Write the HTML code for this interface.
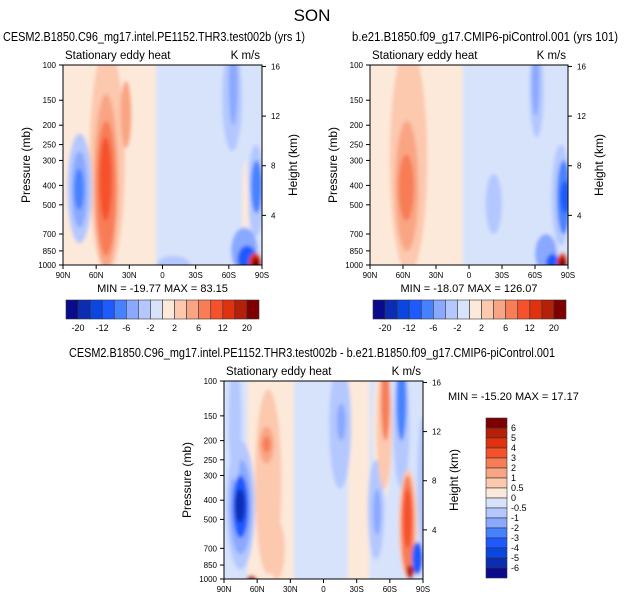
<!DOCTYPE html>
<html><head><meta charset="utf-8"><style>
body{margin:0;background:#fff}
svg{display:block;font-family:"Liberation Sans",sans-serif}
</style></head><body>
<svg id="fig" width="624" height="602" viewBox="0 0 624 602">
<defs><filter id="bl" x="-20%" y="-20%" width="140%" height="140%"><feGaussianBlur stdDeviation="1.8"/></filter></defs>
<text x="312" y="21" font-size="17" text-anchor="middle">SON</text>
</svg>
<script>
const palette=["#0a0a8c","#0a2db4","#0a46e0","#1e5aff","#4682ff","#8aa8ff","#b4c8ff","#d7e3fb","#fde9d9","#fcc8ae","#f9a584","#f87d56","#f5512b","#e0320f","#b4200a","#7f0000"];
const pTicks=[100,150,200,250,300,400,500,700,850,1000];
const hTicks=[4,8,12,16];
const latTicks=[90,60,30,0,-30,-60,-90];
const latLabels=["90N","60N","30N","0","30S","60S","90S"];
const topBarLabels=["-20","-12","-6","-2","2","6","12","20"];
const diffBarLabels=["6","5","4","3","2","1","0.5","0","-0.5","-1","-2","-3","-4","-5","-6"];
// background bands: [lat0, lat1, level]
const bgA=[[90,3,8],[3,-90,7]];
const bgB=[[90,3,8],[3,-90,7]];
const bgC=[[90,66,7],[66,24,8],[24,-25,7],[-25,-44,8],[-44,-90,7]];
// features: [lat0, lat1, pTop, pBot, level]
const featA=[[66,34,80,1100,9],[62,40,140,1050,10],[60,42,190,900,11],[57,46,230,600,12],[38,28,120,260,10],[86,64,220,780,6],[82,68,270,650,5],[80,71,330,530,4],[-54,-72,80,270,6],[-60,-68,80,200,5],[-77,-92,250,720,6],[-80,-90,300,550,4],[5,-25,900,1100,6],[-72,-78,300,900,8],[-62,-86,650,1100,5],[-68,-85,800,1100,3],[-78,-90,870,1100,13],[-81,-88,920,1100,15]];
const featB=[[72,38,80,1100,9],[67,46,190,850,10],[64,50,280,600,11],[-55,-68,80,230,6],[-57,-64,80,180,5],[-75,-92,250,800,6],[-80,-92,300,700,4],[-83,-92,380,550,3],[-15,-30,350,700,6],[-60,-80,700,1100,5],[-70,-82,880,1100,3],[-80,-90,870,1100,13],[-82,-88,920,1100,15]];
const featC=[[62,38,110,950,9],[58,45,170,260,10],[55,48,190,230,11],[50,35,500,1000,9],[-45,-62,80,400,8],[88,62,200,900,6],[85,65,250,750,5],[82,68,300,620,3],[80,71,350,520,1],[86,74,80,320,6],[-5,-25,80,350,6],[-12,-20,130,200,5],[-40,-55,250,800,6],[-45,-52,350,600,5],[-48,-62,80,350,9],[-52,-60,80,200,11],[-63,-78,80,350,6],[-66,-75,80,200,4],[-68,-85,280,1000,9],[-70,-82,300,950,11],[-72,-80,350,700,12],[-85,-95,150,700,6],[-80,-90,650,950,3],[-75,-82,850,1000,14],[60,70,960,1100,14]];
const svg=document.getElementById('fig');
const NS='http://www.w3.org/2000/svg';
function mk(tag,attrs,parent,txt){const e=document.createElementNS(NS,tag);for(const k in attrs)e.setAttribute(k,attrs[k]);if(txt!==undefined)e.textContent=txt;(parent||svg).appendChild(e);return e;}
let clipN=0;
function panel(x0,y0,w,h,bg,feats,title,titleX,titleAnchor,titleLen,minmax,name){
  const xS=lat=>x0+(90-lat)/180*w;
  const yS=p=>y0+Math.log10(p/100)*h;
  const g=mk('g',{});
  
  
  const cid='c'+(clipN++);
  const cp=mk('clipPath',{id:cid},g);mk('rect',{x:x0,y:y0,width:w,height:h},cp);
  const fg=mk('g',{'clip-path':'url(#'+cid+')'},g);
  const fb=mk('g',{filter:'url(#bl)'},fg);
  bg.forEach(b=>{
    const xa=xS(b[0]),xb=xS(b[1]);
    const r=mk('rect',{x:Math.min(xa,xb)-3,y:y0-10,width:Math.abs(xb-xa)+6,height:h+20,fill:palette[b[2]]},fb);
    
    
  });
  feats.forEach(f=>{
    const xa=xS(f[0]),xb=xS(f[1]),ya=yS(f[2]),yb=yS(f[3]);
    const e=mk('ellipse',{cx:(xa+xb)/2,cy:(ya+yb)/2,rx:Math.abs(xb-xa)/2,ry:Math.abs(yb-ya)/2,fill:palette[f[4]]},fb);
    
    
  });
  mk('rect',{x:x0,y:y0,width:w,height:h,fill:'none',stroke:'#000','stroke-width':1},g);
  pTicks.forEach(p=>{const y=yS(p);mk('line',{x1:x0-4,x2:x0,y1:y,y2:y,stroke:'#000'},g);
    const t=mk('text',{x:x0-7,y:y+3,'font-size':8,'text-anchor':'end'},g,p);});
  hTicks.forEach(hk=>{const y=yS(1000*Math.exp(-hk/7));mk('line',{x1:x0+w,x2:x0+w+4,y1:y,y2:y,stroke:'#000'},g);
    const t=mk('text',{x:x0+w+9,y:y+3,'font-size':8},g,hk);});
  latTicks.forEach((l,i)=>{const x=xS(l);mk('line',{x1:x,x2:x,y1:y0+h,y2:y0+h+4,stroke:'#000'},g);
    const t=mk('text',{x:x,y:y0+h+13,'font-size':8,'text-anchor':'middle'},g,latLabels[i]);});
  let t=mk('text',{x:x0+2,y:y0-6,'font-size':11.5},g,'Stationary eddy heat');
  t=mk('text',{x:x0+w-2,y:y0-6,'font-size':11.5,'text-anchor':'end'},g,'K m/s');
  t=mk('text',{x:titleX,y:y0-24,'font-size':12.5,'text-anchor':titleAnchor,textLength:titleLen,lengthAdjust:'spacingAndGlyphs'},g,title);
  t=mk('text',{x:x0-33,y:y0+h/2,'font-size':12,'text-anchor':'middle',transform:`rotate(-90 ${x0-33} ${y0+h/2})`},g,'Pressure (mb)');
  t=mk('text',{x:x0+w+35,y:y0+h/2,'font-size':12,'text-anchor':'middle',transform:`rotate(-90 ${x0+w+35} ${y0+h/2})`},g,'Height (km)');
  if(minmax){t=mk('text',{x:x0+w/2,y:y0+h+27,'font-size':11,'text-anchor':'middle'},g,minmax);}
}
function hbar(x0,y0,w,h,name){
  const g=mk('g',{});
  const bw=w/16;
  palette.forEach((c,i)=>{const r=mk('rect',{x:x0+i*bw,y:y0,width:bw,height:h,fill:c,stroke:'#333','stroke-width':0.6},g);});
  topBarLabels.forEach((l,i)=>{const t=mk('text',{x:x0+(2*i+1)*bw,y:y0+h+12,'font-size':9,'text-anchor':'middle'},g,l);});
}
panel(63,65,199,200,bgA,featA,'CESM2.B1850.C96_mg17.intel.PE1152.THR3.test002b (yrs 1)',3,'start',302,'MIN = -19.77  MAX =  83.15','top-left-panel');
panel(370,65,198,200,bgB,featB,'b.e21.B1850.f09_g17.CMIP6-piControl.001 (yrs 101)',618,'end',266,'MIN = -18.07  MAX = 126.07','top-right-panel');
panel(224,381,199,198,bgC,featC,'CESM2.B1850.C96_mg17.intel.PE1152.THR3.test002b - b.e21.B1850.f09_g17.CMIP6-piControl.001',312,'middle',486,null,'difference-panel');
hbar(66,300,193,19,'top-left-colorbar');
hbar(373,300,193,19,'top-right-colorbar');
(function(){
  const g=mk('g',{});
  const x0=486,y0=418,bh=10;
  for(let i=0;i<16;i++){const r=mk('rect',{x:x0,y:y0+i*bh,width:21,height:bh,fill:palette[15-i],stroke:'#333','stroke-width':0.6},g);}
  diffBarLabels.forEach((l,i)=>{const t=mk('text',{x:511,y:y0+(i+1)*bh+3,'font-size':9},g,l);});
  const t=mk('text',{x:448,y:400,'font-size':11},g,'MIN = -15.20  MAX =  17.17');
})();
</script>
</body></html>
